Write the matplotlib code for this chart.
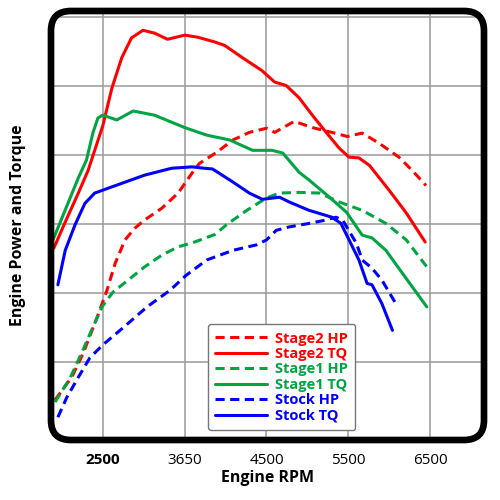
import numpy as np
import matplotlib
matplotlib.use('Agg')
import matplotlib.pyplot as plt
from matplotlib.patches import FancyBboxPatch

plt.rcParams['font.family'] = ['Open Sans', 'DejaVu Sans']

# values (rpm, arbitrary power/torque units)
s2_tq_rpm = [1900, 2040, 2200, 2320, 2500, 2610, 2730, 2850, 2990, 3130, 3290, 3500, 3660, 3870,
             3990, 4210, 4440, 4600, 4740, 4900, 5060, 5230, 5390, 5510, 5630, 5760, 6000, 6210, 6440]
s2_tq = [265, 303, 345, 378, 443, 497, 541, 570, 581, 577, 568, 574, 571, 564,
         559, 541, 523, 506, 501, 483, 458, 433, 410, 397, 396, 385, 349, 316, 274]

s2_hp_rpm = [1915, 2120, 2260, 2430, 2550, 2650, 2770, 2890, 3010, 3220, 3420, 3590, 3680, 3890,
             4090, 4290, 4500, 4600, 4840, 5060, 5300, 5490, 5670, 5880, 6120, 6280, 6450]
s2_hp = [45, 78, 113, 165, 204, 243, 277, 294, 306, 323, 345, 374, 388, 404,
         422, 433, 439, 433, 449, 440, 433, 427, 432, 417, 397, 378, 356]

s1_tq_rpm = [1890, 2200, 2300, 2380, 2440, 2500, 2670, 2870, 3130, 3500, 3770, 4050, 4330, 4570,
             4700, 4900, 5020, 5270, 5480, 5670, 5790, 5960, 6160, 6460]
s1_tq = [277, 367, 393, 433, 454, 458, 451, 464, 458, 440, 429, 422, 407, 407,
         403, 375, 364, 339, 317, 284, 280, 262, 229, 180]

s1_hp_rpm = [1915, 2100, 2240, 2380, 2490, 2620, 2810, 3010, 3220, 3420, 3620, 3870, 4010, 4260,
             4500, 4660, 4900, 5150, 5390, 5670, 5960, 6210, 6460]
s1_hp = [42, 77, 113, 151, 180, 201, 219, 238, 255, 267, 274, 285, 299, 320,
         338, 345, 346, 345, 332, 320, 301, 277, 238]

st_tq_rpm = [1950, 2040, 2160, 2280, 2400, 2610, 3010, 3340, 3590, 3740, 3840, 4090, 4290, 4450,
             4660, 4780, 5020, 5300, 5410, 5510, 5630, 5730, 5790, 5910, 6040]
st_tq = [212, 262, 299, 330, 345, 354, 371, 381, 383, 381, 380, 361, 345, 336,
         339, 332, 320, 310, 301, 277, 248, 214, 212, 185, 146]

st_hp_rpm = [1950, 2060, 2200, 2340, 2500, 2740, 3040, 3320, 3520, 3770, 4090, 4380, 4500, 4620,
             4780, 5020, 5230, 5350, 5430, 5600, 5670, 5790, 5910, 6000, 6090]
st_hp = [20, 49, 78, 106, 125, 149, 180, 204, 226, 248, 262, 270, 277, 291,
         296, 301, 306, 310, 306, 272, 248, 236, 219, 201, 183]

tick_pos = [2500, 3500, 4500, 5500, 6500]
tick_labels = ['2500', '3650', '4500', '5500', '6500']

red = '#ff0000'
green = '#00a543'
blue = '#0000ff'

fig = plt.figure(figsize=(5, 5), dpi=100)
ax = fig.add_axes([0.102, 0.12, 0.866, 0.858])

for sp in ax.spines.values():
    sp.set_visible(False)

ax.set_xlim(1866, 7159)
ax.set_ylim(-13, 609)
ax.set_xticks(tick_pos)
ax.set_xticklabels(tick_labels, fontsize=11)
ax.get_xticklabels()[0].set_fontweight('bold')
ax.set_yticks([100, 200, 300, 400, 500, 600])
ax.set_yticklabels([])
ax.tick_params(length=0, pad=9)
ax.grid(True, color='#9a9a9a', lw=1.1)
ax.set_axisbelow(True)

dash = (3, 1.8)
lw = 2.2
kw = dict(lw=lw, solid_joinstyle='round', dash_joinstyle='round', solid_capstyle='round')
ax.plot(s2_hp_rpm, s2_hp, color=red, dashes=dash, label='Stage2 HP', **kw)
ax.plot(s2_tq_rpm, s2_tq, color=red, label='Stage2 TQ', **kw)
ax.plot(s1_hp_rpm, s1_hp, color=green, dashes=dash, label='Stage1 HP', **kw)
ax.plot(s1_tq_rpm, s1_tq, color=green, label='Stage1 TQ', **kw)
ax.plot(st_hp_rpm, st_hp, color=blue, dashes=dash, label='Stock HP', **kw)
ax.plot(st_tq_rpm, st_tq, color=blue, label='Stock TQ', **kw)

# rounded black frame
frame = FancyBboxPatch((0, 0), 1, 1, boxstyle='round,pad=0,rounding_size=0.046',
                       transform=ax.transAxes, fill=False, ec='black', lw=4.8,
                       clip_on=False, zorder=5)
ax.add_patch(frame)
for gl in ax.get_xgridlines() + ax.get_ygridlines():
    gl.set_clip_path(frame)

leg = ax.legend(loc='lower left', bbox_to_anchor=(0.363, 0.023), borderaxespad=0,
                fancybox=True, framealpha=1, edgecolor='#777777',
                prop={'weight': 'bold', 'size': 10.5}, handlelength=3.5,
                handletextpad=0.6, labelspacing=0.1, borderpad=0.5)
leg.get_frame().set_linewidth(1.0)
for t, c in zip(leg.get_texts(), [red, red, green, green, blue, blue]):
    t.set_color(c)

ax.set_xlabel('Engine RPM', fontsize=11.5, fontweight='bold', labelpad=2)
fig.text(0.036, 0.55, 'Engine Power and Torque', rotation=90, fontsize=11.5,
         fontweight='bold', ha='center', va='center')

fig.savefig('out.png', dpi=100)
